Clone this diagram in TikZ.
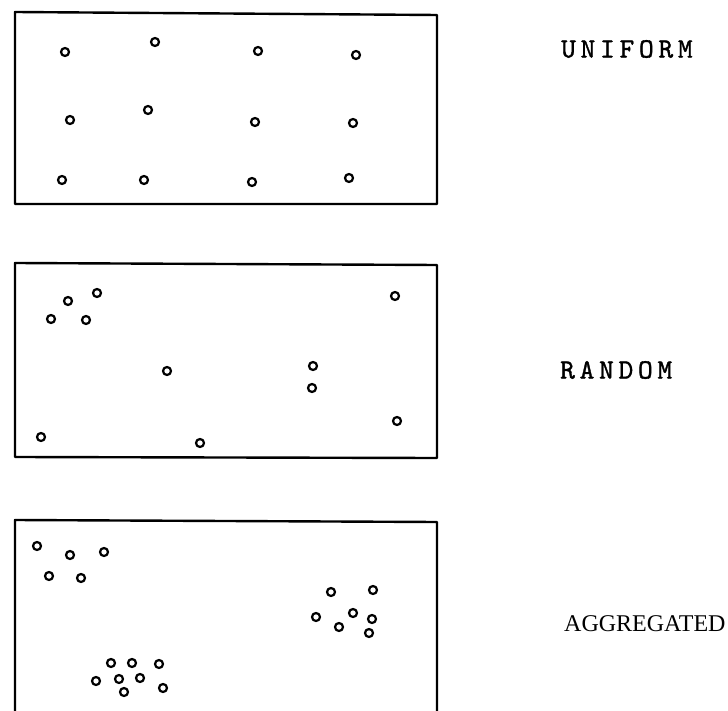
\documentclass[tikz,border=0pt]{standalone}
\usepackage{fontspec}
\newfontfamily\typefont[LetterSpace=17, FakeBold=1.2]{lmmono10-regular.otf}
\newfontfamily\seriffont{Liberation Serif}
\tikzset{
  frame/.style={line width=2.4pt, line join=round},
  dot/.style={line width=2.2pt},
  typelabel/.style={anchor=west, inner sep=0pt, font=\typefont\fontsize{28}{30}\selectfont},
  seriflabel/.style={anchor=west, inner sep=0pt, font=\seriffont\fontsize{24}{25}\selectfont}
}
\begin{document}
\begin{tikzpicture}[x=1pt, y=-1pt]
\useasboundingbox (0,0) rectangle (728,711);

% uniform pattern
\draw[frame] (15,12) -- (437,15) -- (437,204) -- (15,204) -- cycle;
\foreach \p in {(65,52),(155,42),(258,51),(356,55),
                (70,120),(148,110),(255,122),(353,123),
                (62,180),(144,180),(252,182),(349,178)}
  \draw[dot] \p circle (4);
\node[typelabel] (uniform) at (561,49) {UNIFORM};

% random pattern
\draw[frame] (15,263) -- (437,265) -- (437,458) -- (15,457) -- cycle;
\foreach \p in {(51,319),(68,301),(97,293),(86,320),(167,371),
                (313,366),(312,388),(395,296),(397,421),(41,437),(200,443)}
  \draw[dot] \p circle (4);
\node[typelabel] (random) at (560,370) {RANDOM};

% aggregated pattern
\draw[frame] (15,711) -- (15,520) -- (437,522) -- (437,711);
\foreach \p in {(37,546),(70,555),(104,552),(49,576),(81,578),
                (331,592),(373,590),(316,617),(353,613),(339,627),(372,619),(369,633),
                (111,663),(132,663),(159,664),(96,681),(119,679),(140,678),(124,692),(163,688)}
  \draw[dot] \p circle (4);
\node[seriflabel] (aggregated) at (564,624) {AGGREGATED};
\end{tikzpicture}
\end{document}
